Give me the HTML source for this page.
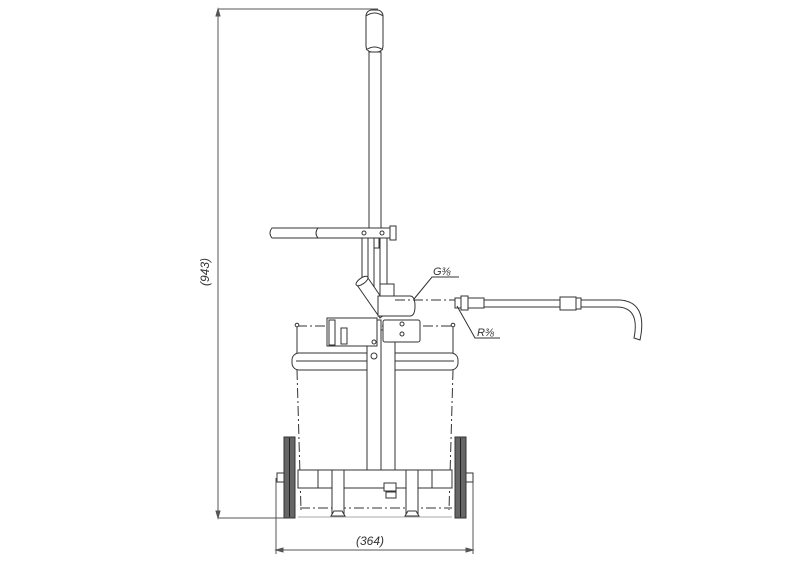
<!DOCTYPE html>
<html><head><meta charset="utf-8"><style>
html,body{margin:0;padding:0;background:#fff;}
svg{display:block;}
text{font-family:"Liberation Sans",sans-serif;font-style:italic;fill:#333;}
</style></head><body>
<svg width="800" height="566" viewBox="0 0 800 566" xmlns="http://www.w3.org/2000/svg">
<g stroke="#555" stroke-width="1" fill="none">
<!-- vertical dimension -->
<line x1="218" y1="9" x2="378" y2="9"/>
<line x1="218" y1="518" x2="290" y2="518"/>
<line x1="218" y1="9" x2="218" y2="518"/>
<path d="M218 9 l-2 7 h4z M218 518 l-2 -7 h4z" fill="#555"/>
<!-- horizontal dimension -->
<line x1="276" y1="478" x2="276" y2="554"/>
<line x1="473" y1="482" x2="473" y2="554"/>
<line x1="276" y1="550" x2="473" y2="550"/>
<path d="M276 550 l7 -2 v4z M473 550 l-7 -2 v4z" fill="#555"/>
</g>
<text x="0" y="0" font-size="12" transform="translate(209,286) rotate(-90)">(943)</text>
<text x="356" y="545" font-size="12">(364)</text>

<g stroke="#333" stroke-width="1" fill="#fff">
<!-- handle grip -->
<rect x="366" y="10" width="17" height="42" rx="6"/>
<path d="M366 16 q8.5 -6 17 0 M366 50 q8.5 -6 17 0"/>
<rect x="369" y="52" width="12" height="180"/>
<!-- handle bars -->
<path d="M272 228 H395 V238 H272 q-4 -5 0 -10z"/>
<path d="M318 228 q-4 5 0 10"/>
<rect x="390" y="226" width="6" height="14"/>
<circle cx="364" cy="233" r="2"/><circle cx="382" cy="233" r="2"/>
<!-- links -->
<rect x="362" y="238" width="6" height="45"/>
<rect x="368" y="238" width="6" height="50"/>
<path d="M374 238 h5 v10 h-5z"/>
<rect x="380" y="238" width="7" height="50"/>
<!-- angled tube -->
<path d="M357 285 L380 318 L390 310 L368 278z"/>
<ellipse cx="362" cy="281" rx="7" ry="3" transform="rotate(-35 362 281)"/>
<!-- pump cylinder -->
<rect x="380" y="284" width="14" height="12"/>
<path d="M378 296 H410 q5 0 5 10 q0 10 -5 10 H378z"/>
<!-- bucket rim dash-dot -->
</g>
<g stroke="#333" stroke-width="1" fill="none" stroke-dasharray="10 3 2 3">
<line x1="297" y1="326" x2="453" y2="326"/>
<line x1="395" y1="300" x2="455" y2="300"/>
<path d="M297 370 L301 510"/>
<path d="M453 370 L449 510"/>
<line x1="300" y1="508" x2="452" y2="508"/>
</g>
<g stroke="#333" stroke-width="1" fill="#fff">
<path d="M297 326 v30 M453 326 v30" fill="none"/>
<circle cx="297" cy="325" r="1.8"/><circle cx="453" cy="325" r="1.8"/>
<!-- band -->
<rect x="292" y="353" width="166" height="17" rx="7"/>
<line x1="296" y1="361" x2="454" y2="361"/>
<!-- column -->
<rect x="367" y="320" width="14" height="168"/>
<rect x="381" y="330" width="14" height="153"/>
<circle cx="374" cy="356" r="3"/>
<circle cx="374" cy="474" r="3"/>
<!-- pump blocks -->
<rect x="327" y="318" width="50" height="28"/>
<rect x="329" y="320" width="6" height="25"/>
<rect x="341" y="328" width="6" height="16"/>
<rect x="383" y="320" width="37" height="22" rx="2"/>
<circle cx="374" cy="342" r="2"/>
<circle cx="402" cy="324" r="2"/><circle cx="402" cy="334" r="2"/>
<!-- axle -->
<rect x="298" y="470" width="154" height="18"/>
<line x1="318" y1="470" x2="318" y2="488"/><line x1="432" y1="470" x2="432" y2="488"/>
<rect x="332" y="470" width="12" height="46"/>
<rect x="406" y="470" width="12" height="46"/>
<path d="M331 516 l3 -5 h8 l3 5z M405 516 l3 -5 h8 l3 5z"/>
<rect x="384" y="483" width="12" height="8"/>
<rect x="386" y="492" width="10" height="6"/>
<line x1="298" y1="517" x2="452" y2="517" stroke="#aaa"/>
<!-- wheels -->
<rect x="284" y="437" width="11" height="81" fill="#666"/>
<rect x="455" y="437" width="11" height="81" fill="#666"/>
<line x1="289.5" y1="438" x2="289.5" y2="517" stroke="#222"/>
<line x1="460.5" y1="438" x2="460.5" y2="517" stroke="#222"/>
<rect x="277" y="473" width="7" height="9"/>
<rect x="466" y="473" width="7" height="9"/>
<!-- hose -->
<rect x="455" y="298" width="6" height="10"/>
<rect x="461" y="296" width="7" height="14"/>
<rect x="468" y="298" width="16" height="10"/>
<rect x="484" y="300" width="76" height="7"/>
<rect x="560" y="297" width="16" height="13"/>
<rect x="576" y="298" width="5" height="11"/>
<path d="M581 300 H620 q28 2 20 40 l-6 -2 q6 -30 -16 -31 H581z"/>
</g>
<!-- labels -->
<g stroke="#333" stroke-width="1" fill="none">
<path d="M459 277 H432 L414 299"/>
<path d="M500 338 H475 L457 306"/>
</g>
<text x="433" y="275" font-size="11">G⅜</text>
<text x="477" y="336" font-size="11">R⅜</text>
</svg>
</body></html>
